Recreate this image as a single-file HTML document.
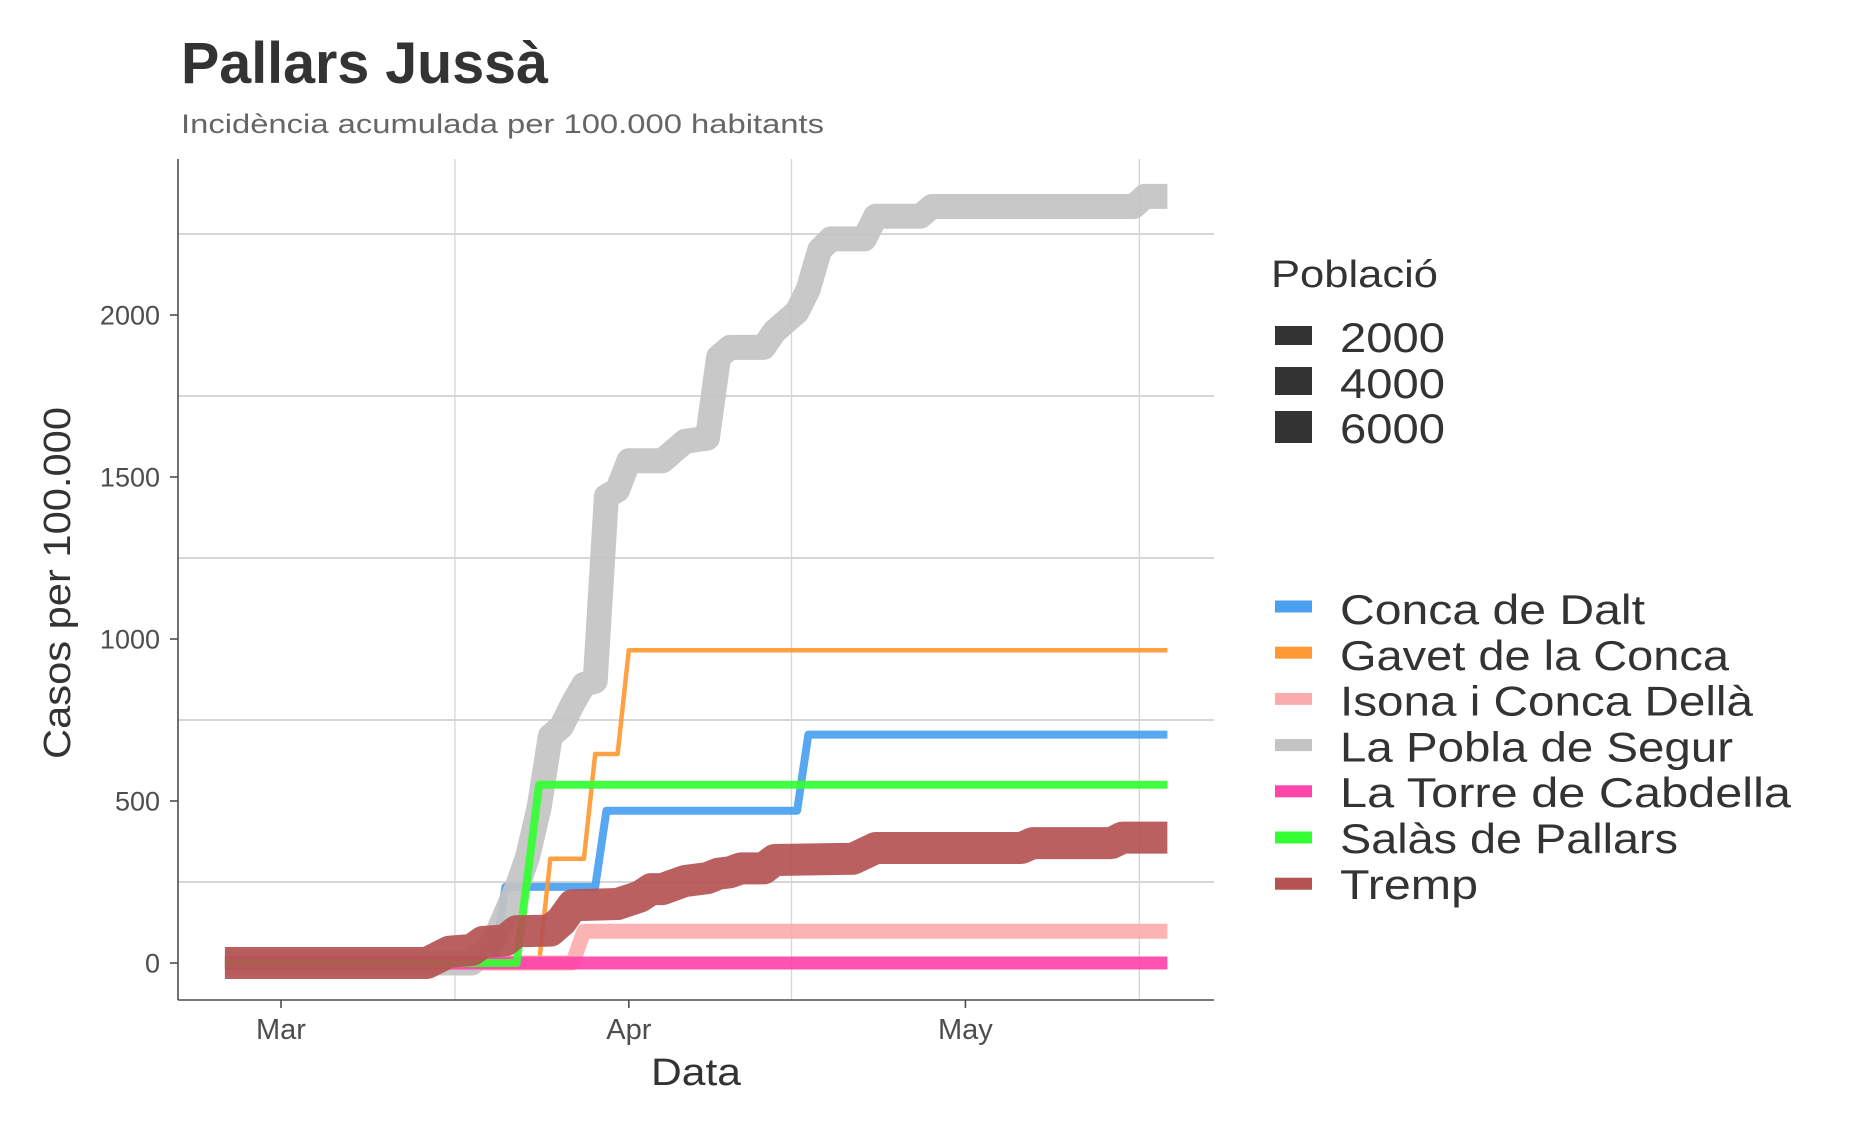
<!DOCTYPE html>
<html><head><meta charset="utf-8"><style>
html,body{margin:0;padding:0;background:#fff;}
svg{display:block;font-family:"Liberation Sans",sans-serif;}
</style></head><body>
<svg id="chart" width="1850" height="1132" viewBox="0 0 1850 1132">
<text x="181" y="83" font-size="58" font-weight="bold" fill="#333" textLength="367" lengthAdjust="spacingAndGlyphs">Pallars Jussà</text>
<text x="181" y="133" font-size="27" fill="#666" textLength="643" lengthAdjust="spacingAndGlyphs">Incidència acumulada per 100.000 habitants</text>
<g id="grid"></g>
<g id="series"></g>
<g id="axes"></g>
<text x="696" y="1085" font-size="38" fill="#333" text-anchor="middle" textLength="90" lengthAdjust="spacingAndGlyphs">Data</text>
<text transform="translate(70,583) rotate(-90)" font-size="38" fill="#333" text-anchor="middle" textLength="352" lengthAdjust="spacingAndGlyphs">Casos per 100.000</text>
<g id="legend">
<text x="1271" y="287" font-size="38" fill="#333" textLength="167" lengthAdjust="spacingAndGlyphs">Població</text>
</g>
</svg>
<script>
const NS="http://www.w3.org/2000/svg";
// ---- data ----
const seriesNames=["Conca de Dalt","Gavet de la Conca","Isona i Conca Dellà","La Pobla de Segur","La Torre de Cabdella","Salàs de Pallars","Tremp"];
// days are offsets from 1 March
const daysConca=[-5,19,20,28,29,46,47,79];
const valsConca=[0,0,235,235,470,470,705,705];
const daysGavet=[-5,23,24,27,28,30,31,79];
const valsGavet=[0,0,322,322,645,645,965,965];
const daysIsona=[-5,26,27,79];
const valsIsona=[0,0,98,98];
const daysPobla=[-5,17,18,19,20,21,22,23,24,25,26,27,28,29,30,31,34,35,36,37,38,39,40,43,44,45,46,47,48,49,52,53,57,58,76,77,79];
const valsPobla=[0,0,30,70,150,230,330,480,700,730,800,860,870,1440,1460,1550,1550,1580,1610,1615,1620,1870,1900,1900,1950,1980,2010,2080,2200,2235,2235,2305,2305,2335,2335,2366,2366];
const daysTorre=[-5,79];
const valsTorre=[0,0];
const daysSalas=[-5,21,23,79];
const valsSalas=[0,0,550,550];
const daysTremp=[-5,13,15,17,18,20,21,24,25,26,30,32,33,34,36,38,39,40,41,43,44,51,53,66,67,74,75,79];
const valsTremp=[0,0,35,40,65,70,98,100,130,178,182,205,228,228,253,262,276,280,292,292,318,322,355,355,370,370,387,387];
const seriesDays=[daysConca,daysGavet,daysIsona,daysPobla,daysTorre,daysSalas,daysTremp];
const seriesVals=[valsConca,valsGavet,valsIsona,valsPobla,valsTorre,valsSalas,valsTremp];
const yTicks=[0,500,1000,1500,2000];
const yMinor=[250,750,1250,1750,2250];
const xTickLabels=["Mar","Apr","May"];
const xTickDays=[0,31,61];
const xMinorDays=[15.5,45.5,76.5];
const sizeLabels=["2000","4000","6000"];
// ---- styling ----
const colors=["#4a9ff0","#ff9933","#fbadad","#c3c3c3","#ff44aa","#33ff33","#b55353"];
const widths=[8,4.5,15,25,13,8,32];
const labelWidths=[305,389,413,393,451,338,138];
// ---- scales ----
const X0=178,X1=1214,Y0=159,Y1=1000;
function xs(d){return 281+11.22*d;}
function ys(v){return 963-0.324*v;}
function el(tag,attrs,parent){const e=document.createElementNS(NS,tag);for(const k in attrs)e.setAttribute(k,attrs[k]);parent.appendChild(e);return e;}
const grid=document.getElementById('grid'),ser=document.getElementById('series'),axes=document.getElementById('axes'),leg=document.getElementById('legend');
yMinor.forEach(v=>{const l=el('line',{x1:X0,x2:X1,y1:ys(v),y2:ys(v),stroke:'#bdbdbd','stroke-width':1.3},grid);

});
xMinorDays.forEach(d=>{const l=el('line',{x1:xs(d),x2:xs(d),y1:Y0,y2:Y1,stroke:'#d6d6d6','stroke-width':1.3},grid);

});
seriesNames.forEach((n,i)=>{
  const pts=seriesDays[i].map((d,j)=>xs(d).toFixed(1)+','+ys(seriesVals[i][j]).toFixed(1)).join(' ');
  const p=el('polyline',{points:pts,fill:'none',stroke:colors[i],'stroke-width':widths[i],'stroke-linejoin':'round','stroke-linecap':'butt','stroke-opacity':0.92},ser);
  
  
});
el('line',{x1:X0,x2:X0,y1:Y0,y2:Y1,stroke:'#4d4d4d','stroke-width':1.6},axes);
el('line',{x1:X0,x2:X1,y1:Y1,y2:Y1,stroke:'#4d4d4d','stroke-width':1.6},axes);
yTicks.forEach(v=>{
  el('line',{x1:170,x2:X0,y1:ys(v),y2:ys(v),stroke:'#4d4d4d','stroke-width':1.6},axes);
  const t=el('text',{x:160,y:ys(v)+9.5,'font-size':27,fill:'#4d4d4d','text-anchor':'end'},axes);
  t.textContent=String(v);
  
  
});
xTickDays.forEach((d,i)=>{
  el('line',{x1:xs(d),x2:xs(d),y1:Y1,y2:Y1+8,stroke:'#4d4d4d','stroke-width':1.6},axes);
  const t=el('text',{x:xs(d),y:1039,'font-size':29,fill:'#4d4d4d','text-anchor':'middle'},axes);
  t.textContent=xTickLabels[i];
  
  
});
const sizeRects=[[326,19],[367,28],[411,32]],sizeBase=[352,398,443];
sizeLabels.forEach((s,i)=>{
  const r=el('rect',{x:1275,y:sizeRects[i][0],width:37,height:sizeRects[i][1],fill:'#333'},leg);
  
  
  const t=el('text',{x:1340,y:sizeBase[i],'font-size':42,fill:'#333',textLength:105,lengthAdjust:'spacingAndGlyphs'},leg);
  t.textContent=s;
  
  
});
seriesNames.forEach((n,i)=>{
  const cy=606.5+46.2*i;
  const r=el('rect',{x:1275,y:cy-6,width:37,height:12,fill:colors[i]},leg);
  
  
  const t=el('text',{x:1340,y:624+45.8*i,'font-size':42,fill:'#333',textLength:labelWidths[i],lengthAdjust:'spacingAndGlyphs'},leg);
  t.textContent=n;
  
  
});
</script>
</body></html>
